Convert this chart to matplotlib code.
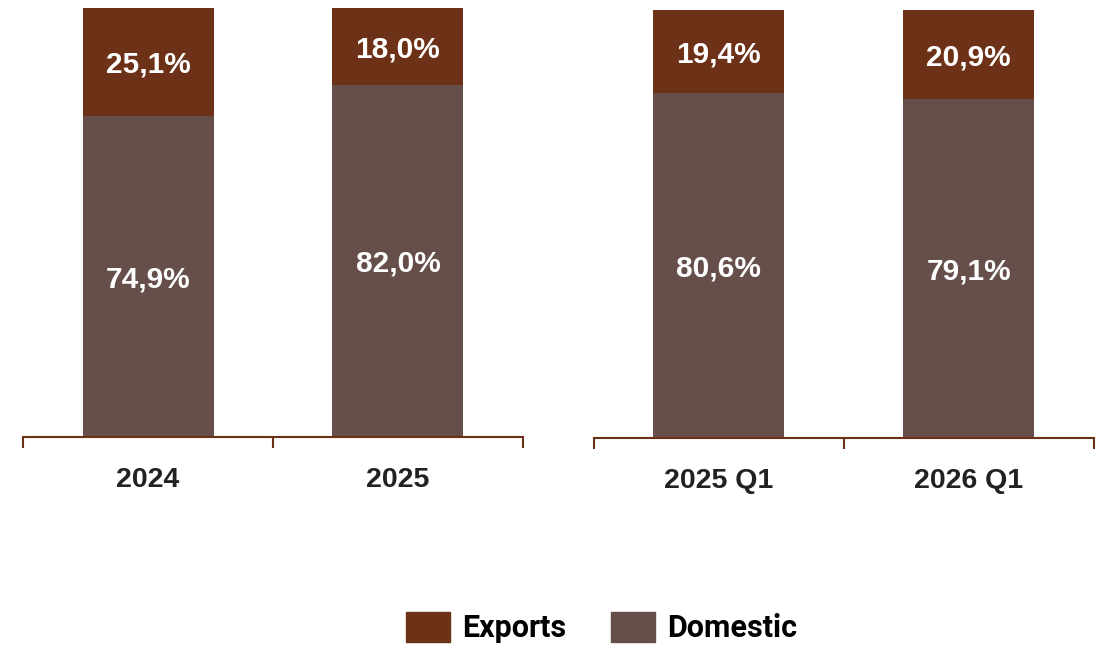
import matplotlib.pyplot as plt
from matplotlib import font_manager as fm
from matplotlib.patches import Patch

# annual shares and Q1 shares (percent)
years = ["2024", "2025"]
years_exports = [25.1, 18.0]
years_domestic = [74.9, 82.0]

quarters = ["2025 Q1", "2026 Q1"]
quarters_exports = [19.4, 20.9]
quarters_domestic = [80.6, 79.1]

c_exp = "#6c3116"
c_dom = "#664f4a"
c_axis = "#6b3015"

# regular-width Liberation Sans Bold, looked up by file so Narrow is not picked
bold_path = None
for p in fm.findSystemFonts():
    if p.endswith("LiberationSans-Bold.ttf"):
        bold_path = p
        break
if bold_path:
    lab_font = fm.FontProperties(fname=bold_path, size=21.5)
    tick_font = fm.FontProperties(fname=bold_path, size=20.5)
else:
    lab_font = fm.FontProperties(family="Open Sans", weight="bold", size=21.5)
    tick_font = fm.FontProperties(family="Open Sans", weight="bold", size=20.5)

fig = plt.figure(figsize=(11.12, 6.45), dpi=100)
ax1 = fig.add_axes([0.0207, 0.3225, 0.4496, 0.6651])
ax2 = fig.add_axes([0.534, 0.3209, 0.4496, 0.6636])


def fmt(v):
    return f"{v:.1f}".replace(".", ",") + "%"


def put_label(ax, x, y, v):
    ax.annotate(fmt(v), (x, y), xytext=(0, -2), textcoords="offset points",
                ha="center", va="center", color="white", fontproperties=lab_font)


def draw(ax, cats, dom, exp):
    x = list(range(len(cats)))
    ax.bar(x, dom, width=0.524, color=c_dom, edgecolor="none")
    ax.bar(x, exp, width=0.524, bottom=dom, color=c_exp, edgecolor="none")
    for i in x:
        put_label(ax, i, dom[i] / 2, dom[i])
        put_label(ax, i, dom[i] + exp[i] / 2, exp[i])
    ax.set_xlim(-0.5, len(cats) - 0.5)
    ax.set_ylim(0, 100)
    for s in ["top", "right", "left"]:
        ax.spines[s].set_visible(False)
    ax.spines["bottom"].set_color(c_axis)
    ax.spines["bottom"].set_linewidth(1.5)
    ax.set_yticks([])
    ax.set_xticks([i - 0.5 for i in range(len(cats) + 1)])
    ax.set_xticklabels([])
    ax.tick_params(axis="x", which="major", length=8, width=1.5, color=c_axis)
    ax.set_xticks(x, minor=True)
    ax.set_xticklabels(cats, minor=True, fontproperties=tick_font, color="#222222")
    ax.tick_params(axis="x", which="minor", length=0, pad=21.5)


draw(ax1, years, years_domestic, years_exports)
draw(ax2, quarters, quarters_domestic, quarters_exports)

handles = [Patch(color=c_exp, label="Exports"), Patch(color=c_dom, label="Domestic")]
fig.legend(handles=handles, loc="center", bbox_to_anchor=(0.541, 0.027),
           ncol=2, frameon=False, handlelength=1.45, handleheight=1.15,
           handletextpad=0.4, columnspacing=1.45, borderpad=0,
           prop={"family": "Roboto", "weight": "bold", "size": 22})

fig.savefig("out.png", dpi=100)
